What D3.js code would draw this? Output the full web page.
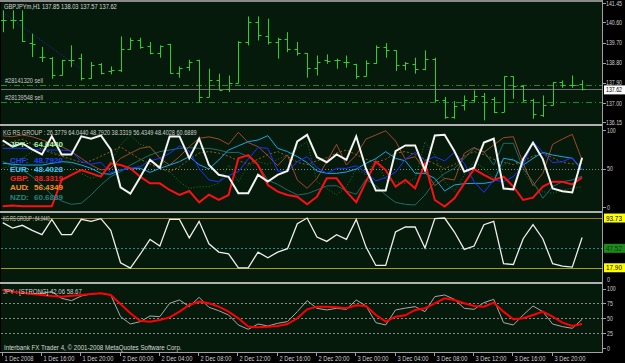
<!DOCTYPE html>
<html><head><meta charset="utf-8">
<script src="https://cdn.jsdelivr.net/npm/d3@7"></script>
<style>
html,body{margin:0;padding:0;background:#000;}
svg{display:block;}
text{font-family:"Liberation Sans",Arial,sans-serif;}
</style></head><body>
<svg id="chart" width="625" height="363"></svg>
<script>
// ---- data ----
const symbolTitle = 'GBPJPYm,H1 137.85 138.03 137.57 137.62';
const dateLabels = ['1 Dec 2008','1 Dec 16:00','1 Dec 20:00','2 Dec 00:00','2 Dec 04:00','2 Dec 08:00',
  '2 Dec 12:00','2 Dec 16:00','2 Dec 20:00','3 Dec 00:00','3 Dec 04:00','3 Dec 08:00','3 Dec 12:00',
  '3 Dec 16:00','3 Dec 20:00'];
const priceTicks = [141.45, 140.60, 139.70, 138.80, 137.90, 137.00, 136.15];
const lastPrice = 137.62;

// OHLC per hourly bar, 1 Dec 12:00 .. 3 Dec 23:00
const opens  = [140.72,140.72,140.69,139.68,139.06,139.03,138.24,138.94,139.03,138.14,138.73,138.44,138.47,139.43,139.83,139.54,139.24,139.62,138.35,138.61,
  138.91,137.28,138.05,137.65,137.89,139.73,140.62,139.98,139.73,139.88,139.43,139.24,138.59,138.91,138.91,138.84,138.76,138.20,138.79,139.51,
  139.36,138.69,138.76,138.54,138.99,137.16,136.39,136.91,137.16,137.31,137.20,136.61,138.20,137.75,137.16,136.46,136.91,137.95,137.80,137.85];
const highs  = [141.14,141.14,141.14,140.10,139.51,139.06,138.94,139.58,139.21,138.84,138.79,138.64,139.98,139.92,139.92,139.73,139.58,139.65,138.64,138.94,
  138.94,138.54,138.32,138.24,139.77,140.87,140.87,140.77,139.92,140.17,139.73,139.24,139.13,139.18,138.99,139.13,138.76,138.91,139.58,139.68,
  139.36,138.84,139.03,139.36,139.03,137.28,137.10,137.35,137.58,137.46,137.28,138.20,138.20,137.80,137.20,137.35,137.95,138.02,138.24,138.03];
const lows   = [140.17,140.32,139.73,139.06,138.84,138.09,138.24,138.61,138.02,138.09,138.29,138.29,138.39,139.39,139.43,139.18,139.03,138.32,138.14,138.44,
  137.06,137.28,137.60,137.50,137.89,139.58,139.80,139.62,138.99,139.28,139.13,138.14,138.24,138.76,138.54,138.59,138.09,138.20,138.76,139.03,
  138.44,138.47,138.32,138.47,137.06,136.31,136.31,136.68,137.06,136.24,136.57,136.61,137.20,137.06,136.31,136.39,136.91,137.69,137.69,137.57];
const closes = [140.69,140.69,139.77,139.65,139.06,138.24,138.91,138.94,138.14,138.69,138.35,138.47,139.43,139.83,139.51,139.24,139.54,138.35,138.59,138.84,
  137.28,138.02,137.60,137.89,139.73,140.62,140.03,139.73,139.88,139.43,139.24,138.59,138.84,138.88,138.91,138.84,138.20,138.79,139.51,139.36,
  138.69,138.79,138.54,138.99,137.13,136.39,136.86,137.13,137.31,137.06,136.61,138.20,137.75,137.16,136.51,136.91,137.95,137.80,137.80,137.62];

const trendBars = [0, 7.9];
const trendPrices = [141.05, 138.55];
const orderPrices = [137.82, 137.07];
const orderNames = ['#28141320 sell', '#28139548 sell'];

// KG RS GROUP (0..100)
const rsHeader = 'KG RS GROUP :  26.3779 64.0440 48.7920 38.3319 56.4349 48.4028 60.6889';
const jpy = [86.6,78.5,82.6,74.9,68.3,91.7,68.3,68.3,91.7,88.7,92.8,74.9,25.5,17.3,38.5,61.2,51.0,91.7,91.7,63.5,
  88.7,54.5,41.8,39.2,17.8,17.8,41.8,33.1,41.8,46.9,85.1,93.7,64.7,58.1,68.3,61.2,91.7,49.4,21.4,21.4,
  72.4,80.0,80.0,47.9,92.8,93.7,72.4,45.9,51.0,83.6,88.7,24.0,22.9,62.2,83.6,62.2,24.0,20.4,18.9,64.0];
const gbp = [1,2,1,1,1,1,35,41.6,48.0,43.7,39.4,56.7,54.5,50.2,39.4,30.7,30.7,22.1,15.6,20.8,
  6.1,16.0,9.1,15.6,63.2,67.5,54.5,28.6,19.9,15.6,13.4,3.5,13.4,37.2,37.2,19.9,6.1,32.9,58.9,48.0,
  26.4,35.1,24.2,56.7,9.1,0.5,11.3,30.7,49.3,41.6,35.1,39.4,26.4,9.1,12.1,26.4,32.9,32.9,29.4,38.3];
const chf = [76.2,76.2,76.2,75,74,74,74,72.8,58.9,55.6,58,44.6,48.1,50.2,52.4,59.8,63.2,69.7,79.3,72.8,
  50,35.1,32.9,40.7,45.9,62.3,77.3,76.2,46.8,45.9,58.9,65.4,51.1,43.7,50.2,50.2,53.6,44.6,33.8,38.5,
  45,62,71,60.2,65.4,59.8,71,56.7,32.9,19,35.1,32.9,39.4,54.5,84.8,71,57.6,58.9,64.1,48.8];
const eur = [56.7,55.6,54.5,54.5,54.5,56.7,58.9,58,54.5,50.2,43.7,42.5,48.1,50.2,50.2,45,50.2,54.5,58.9,65.4,
  55,49.3,61,74,79.5,84.8,87,92.6,76.2,71.9,65.4,57.6,46.8,43.7,43.7,45.5,49.3,56.7,62.8,71.9,
  63.2,60,43.7,43.7,37.2,20.8,28.6,30.3,30.7,30.7,32.9,63.2,61,54.5,63.2,71,67.5,65.4,63.2,48.4];
const nzd = [92.4,91.3,93.5,91.3,87,82.7,78.4,71.9,63.2,54.5,48.1,50.2,63.2,69.7,76.2,78.4,63.2,54.5,65.4,78.4,
  89.2,91.1,88.3,81.4,97,83.7,78.4,66.7,53.7,67.5,35.1,24.2,37,58.9,81.4,54.5,67.5,88.3,93.5,99,
  85.7,62,65.4,48.1,27.7,37.2,35.1,69.7,77.3,71,80.5,90,91.3,56.7,27.7,43.7,81.4,88.3,94.4,60.7];
const aud = [80,85,88,82,75,70,66,62,58,60,66,72,78,70,62,56,50,46,52,62,
  70,72,70,66,60,56,62,68,72,66,58,55,60,64,70,74,68,62,58,62,
  70,72,68,62,56,50,55,66,72,68,62,58,55,60,66,70,64,58,56,56.4];
const usd = [58.9,54.5,48.1,39.4,28.6,15.6,7.8,3.5,4.8,15.6,28.6,39.4,45.9,54.5,61,67.5,71.9,74,76.2,77,
  76.2,76.2,74,70.6,71,65.4,54.5,35.1,29.4,22.1,15.6,17.3,22.1,27.3,27.7,20.8,16.5,36,27.7,15.6,
  6,3.5,2.6,15.6,32.9,43.7,50.2,63.2,76.2,71.9,54.5,82.7,82.7,50.2,32.9,11.3,26.4,32.9,35.1,40];
const groupAvg = [50.2,54.5,63.2,71.9,76.2,71.9,67.5,54.5,43.7,37.2,41.6,58.9,80.5,93.5,81.4,77.3,65.4,45.9,32.9,24.2,
  26.4,26.4,30.7,54.5,32.9,54.5,58.9,55.6,61.9,67.5,76.2,84.8,32.9,24.2,15.6,26.4,49.3,41.6,62.3,35.1,
  32.9,30.7,37.2,84.8,67.5,32.9,19.9,41.6,58.9,50.2,37.2,54.5,63.2,45.9,28.6,19.9,17.7,22.1,24.2,26.4];
const legendNames = ['JPY','','CHF','EUR','GBP','AUD','NZD'];
const legendValues = ['64.0440','','48.7920','48.4028','38.3319','56.4349','60.6889'];

// single-currency panel
const jpyHeader = 'KG RS GROUP :  64.0440';
const jpyLevels = [93.73, 47.52, 17.9];
const jpyLevelLabels = ['93.73', '47.52', '17.90'];

// strength panel
const strengthHeader = 'JPY : [STRONG]     42.06  58.67';
const strengthSlow = [97.5,94.7,93.0,90.8,89.1,87.4,86.3,87.9,89.1,90.8,91.9,89.1,73.9,58.3,45.9,44.3,47.1,51.5,61.1,72.3,
  77.9,75.1,69.5,61.1,49.9,36.0,34.7,35.9,37.0,40.3,49.9,65.0,69.5,69.5,68.4,66.7,71.7,70.6,55.5,44.3,
  52.7,55.0,63.9,66.7,75.1,83.5,80.7,75.1,70.6,69.5,76.2,61.1,48.2,49.9,55.5,61.1,52.7,42.6,37.0,40.3];
const strengthFast = [97.5,95.8,91.9,90.8,91.9,94.7,83.5,79.6,87.4,90.8,91.9,89.1,52.7,40.3,44.3,53.8,52.7,75.1,80.7,69.5,
  85.2,68.4,62.7,55.5,38.7,31.4,40.3,37.0,41.5,44.3,61.1,79.6,66.7,63.9,66.7,65.0,80.7,70.6,42.6,38.7,
  63.9,67.0,69.5,61.1,86.3,89.1,81.8,66.7,65.0,76.2,81.8,42.6,38.7,55.5,70.6,61.1,40.3,35.9,33.1,48.2];
const strengthTicks = [100, 75, 50, 25, 0];

const copyright = 'Interbank FX Trader 4, \u00a9 2001-2008 MetaQuotes Software Corp.';

// ---- layout ----
const svg = d3.select('#chart');
const plotL = 1, plotR = 602;
const panels = [
  { top: 2, bottom: 124 },
  { top: 126, bottom: 211 },
  { top: 213, bottom: 282 },
  { top: 284, bottom: 352 }
];
const bg = '#061a0c';
const gray = '#a0a0a0';

svg.append('rect').attr('width', 625).attr('height', 363).attr('fill', '#000');
panels.forEach((p, i) => {
  svg.append('rect').attr('x', plotL).attr('y', p.top).attr('width', plotR - plotL).attr('height', p.bottom - p.top).attr('fill', bg);
  svg.append('clipPath').attr('id', 'clip' + i).append('rect')
    .attr('x', plotL).attr('y', p.top).attr('width', plotR - plotL).attr('height', p.bottom - p.top);
});
// separators and frame
svg.append('rect').attr('x', 0).attr('y', 0).attr('width', 603).attr('height', 2).attr('fill', '#8a8a8a');
[124, 211, 282].forEach(y => svg.append('rect').attr('x', 0).attr('y', y).attr('width', 603).attr('height', 2).attr('fill', '#b0b0b0'));
svg.append('line').attr('x1', 602.5).attr('x2', 602.5).attr('y1', 0).attr('y2', 353).attr('stroke', gray);
svg.append('line').attr('x1', 0).attr('x2', 603).attr('y1', 352.5).attr('y2', 352.5).attr('stroke', gray);

// small compact text: squeeze horizontally to the width measured on the screenshot
function label(g, x, y, s, fill, opts = {}) {
  const t = g.append('text').attr('x', 0).attr('y', 0).text(s)
    .attr('fill', fill).attr('font-size', opts.size || 7)
    .attr('text-anchor', opts.anchor || 'start');
  if (opts.bold) t.attr('font-weight', 'bold');
  let sx = 1;
  if (opts.w) sx = opts.w / t.node().getComputedTextLength();
  t.attr('transform', `translate(${x},${y}) scale(${sx.toFixed(3)},1)`);
  return t;
}

const x = d3.scaleLinear().domain([0, 59]).range([2.7, 582.1]);
const xs = i => Math.round(x(i)) + 0.5;

// ---- panel 1: price bars ----
const yP = d3.scaleLinear().domain([137.0, 139.7]).range([103.3, 42.7]);
const g1 = svg.append('g').attr('clip-path', 'url(#clip0)');

// order lines
orderPrices.forEach((p, i) => {
  g1.append('line').attr('x1', plotL).attr('x2', plotR).attr('y1', Math.round(yP(p)) + 0.5).attr('y2', Math.round(yP(p)) + 0.5)
    .attr('stroke', '#1f8a1f').attr('stroke-dasharray', '6,3,1,3');
  label(g1, 5, yP(p) - 2, orderNames[i], '#c8c8c8', { w: 38 });
});
// bid line
g1.append('line').attr('x1', plotL).attr('x2', plotR).attr('y1', Math.round(yP(lastPrice)) + 0.5).attr('y2', Math.round(yP(lastPrice)) + 0.5)
  .attr('stroke', '#6e6e6e');
// trend line
g1.append('line').attr('x1', x(trendBars[0])).attr('y1', yP(trendPrices[0]))
  .attr('x2', x(trendBars[1])).attr('y2', yP(trendPrices[1]))
  .attr('stroke', '#1c2cd0').attr('stroke-dasharray', '1,2');

const barColor = '#2ccf2c';
const bars = g1.selectAll('g.bar').data(d3.range(opens.length)).enter().append('g');
bars.append('line').attr('x1', xs).attr('x2', xs)
  .attr('y1', i => yP(highs[i])).attr('y2', i => yP(lows[i])).attr('stroke', barColor);
bars.append('line').attr('x1', i => xs(i) - 3).attr('x2', xs)
  .attr('y1', i => Math.round(yP(opens[i])) + 0.5).attr('y2', i => Math.round(yP(opens[i])) + 0.5).attr('stroke', barColor);
bars.append('line').attr('x1', xs).attr('x2', i => xs(i) + 3)
  .attr('y1', i => Math.round(yP(closes[i])) + 0.5).attr('y2', i => Math.round(yP(closes[i])) + 0.5).attr('stroke', barColor);

label(svg, 4, 9, symbolTitle, '#d8d8d8', { w: 113 });

// price axis
priceTicks.forEach(p => {
  svg.append('line').attr('x1', 603).attr('x2', 606).attr('y1', Math.round(yP(p)) + 0.5).attr('y2', Math.round(yP(p)) + 0.5).attr('stroke', gray);
  const base = p === 137.90 ? yP(p) + 1.8 : Math.max(yP(p) + 2.5, 6);
  label(svg, 606, base, p.toFixed(2), '#d0d0d0', { w: 16 });
});
svg.append('rect').attr('x', 604).attr('y', yP(lastPrice) - 4).attr('width', 21).attr('height', 9).attr('fill', '#fff');
label(svg, 606, yP(lastPrice) + 3, lastPrice.toFixed(2), '#000', { w: 16, size: 6.3 });

// ---- panel 2: RS group ----
const y2 = d3.scaleLinear().domain([0, 100]).range([207, 130]);
const g2 = svg.append('g').attr('clip-path', 'url(#clip1)');
g2.append('line').attr('x1', plotL).attr('x2', plotR).attr('y1', Math.round(y2(50)) + 0.5).attr('y2', Math.round(y2(50)) + 0.5)
  .attr('stroke', '#888').attr('stroke-dasharray', '1,2');
const line2 = d3.line().x((d, i) => x(i)).y(d => y2(d));
const series2 = [
  { data: groupAvg, color: '#1f7a1f', w: 1, dash: '1,2' },
  { data: usd, color: '#1d6a6a', w: 1 },
  { data: aud, color: '#9a5a1c', w: 1, dash: '2,2' },
  { data: nzd, color: '#a0482a', w: 1 },
  { data: eur, color: '#14a8e8', w: 1 },
  { data: chf, color: '#2030ff', w: 1 },
  { data: gbp, color: '#ff1010', w: 2 },
  { data: jpy, color: '#f4f4f4', w: 2 }
];
series2.forEach(s => {
  g2.append('path').datum(s.data).attr('d', line2).attr('fill', 'none')
    .attr('stroke', s.color).attr('stroke-width', s.w).attr('stroke-dasharray', s.dash || null);
});
label(svg, 3, 135, rsHeader, '#d0d0d0', { w: 194 });
const legendColors = ['#a8f0a8', '#000', '#2040ff', '#40c8ff', '#ff2020', '#ff8c1a', '#2a8080'];
legendNames.forEach((n, i) => {
  if (!n) return;
  const yy = [147, 154, 163, 172, 181, 190, 200][i];
  label(svg, 10, yy, n, legendColors[i], { size: 8, bold: true });
  label(svg, 26, yy, ':', legendColors[i], { size: 8, bold: true });
  label(svg, 34, yy, legendValues[i], legendColors[i], { size: 8, bold: true });
});
[100, 50, 0].forEach(v => {
  svg.append('line').attr('x1', 603).attr('x2', 606).attr('y1', Math.round(y2(v)) + 0.5).attr('y2', Math.round(y2(v)) + 0.5).attr('stroke', gray);
  label(svg, 607, y2(v) + 2.5, String(v), '#d0d0d0', { w: String(v).length * 2.9 });
});

// ---- panel 3: JPY RS ----
const y3 = d3.scaleLinear().domain([0, 100]).range([279.5, 213.9]);
const g3 = svg.append('g').attr('clip-path', 'url(#clip2)');
const lvlColors = ['#9a7a2a', '#2a8a8a', '#a0a020'];
jpyLevels.forEach((v, i) => {
  g3.append('line').attr('x1', plotL).attr('x2', plotR).attr('y1', Math.round(y3(v)) + 0.5).attr('y2', Math.round(y3(v)) + 0.5)
    .attr('stroke', lvlColors[i]).attr('stroke-dasharray', i === 1 ? '2,2' : null);
});
g3.append('path').datum(jpy).attr('d', d3.line().x((d, i) => x(i)).y(d => y3(d)))
  .attr('fill', 'none').attr('stroke', '#eeeeee').attr('stroke-width', 1.3);
label(svg, 3, 221, jpyHeader, '#d0d0d0', { w: 47 });
const boxFill = ['#ffff00', '#1e8a1e', '#ffff00'];
jpyLevels.forEach((v, i) => {
  svg.append('rect').attr('x', 604).attr('y', y3(v) - 4.5).attr('width', 21).attr('height', 9).attr('fill', boxFill[i]);
  label(svg, 606, y3(v) + 2.5, jpyLevelLabels[i], i === 1 ? '#0b3a0b' : '#000', { w: 16 });
});
label(svg, 607, y3(0) + 2.5, '0', '#d0d0d0', { w: 3 });

// ---- panel 4: strength ----
const y4 = d3.scaleLinear().domain([0, 100]).range([348, 288.5]);
const g4 = svg.append('g').attr('clip-path', 'url(#clip3)');
[75, 50, 25].forEach(v => {
  g4.append('line').attr('x1', plotL).attr('x2', plotR).attr('y1', Math.round(y4(v)) + 0.5).attr('y2', Math.round(y4(v)) + 0.5)
    .attr('stroke', '#888').attr('stroke-dasharray', '2,2');
});
const line4 = d3.line().x((d, i) => x(i)).y(d => y4(d));
g4.append('path').datum(strengthFast).attr('d', line4).attr('fill', 'none').attr('stroke', '#a8a8a8').attr('stroke-width', 1);
g4.append('path').datum(strengthSlow).attr('d', line4).attr('fill', 'none').attr('stroke', '#ff0000').attr('stroke-width', 2);
label(svg, 3, 294, strengthHeader, '#d0d0d0', { w: 79 });
label(svg, 4, 350, copyright, '#d8d8d8', { w: 178 });
strengthTicks.forEach(v => {
  svg.append('line').attr('x1', 603).attr('x2', 606).attr('y1', Math.round(y4(v)) + 0.5).attr('y2', Math.round(y4(v)) + 0.5).attr('stroke', gray);
  label(svg, 607, y4(v) + 2.5, String(v), '#d0d0d0', { w: String(v).length * 2.9 });
});

// ---- time axis ----
dateLabels.forEach((s, k) => {
  const xi = Math.round(x(k * 4)) - 0.5;
  svg.append('line').attr('x1', xi).attr('x2', xi).attr('y1', 352).attr('y2', 356).attr('stroke', gray);
  label(svg, xi + 2, 361, s, '#d0d0d0', { w: k === 0 ? 29 : 31 });
});
</script>
</body></html>
